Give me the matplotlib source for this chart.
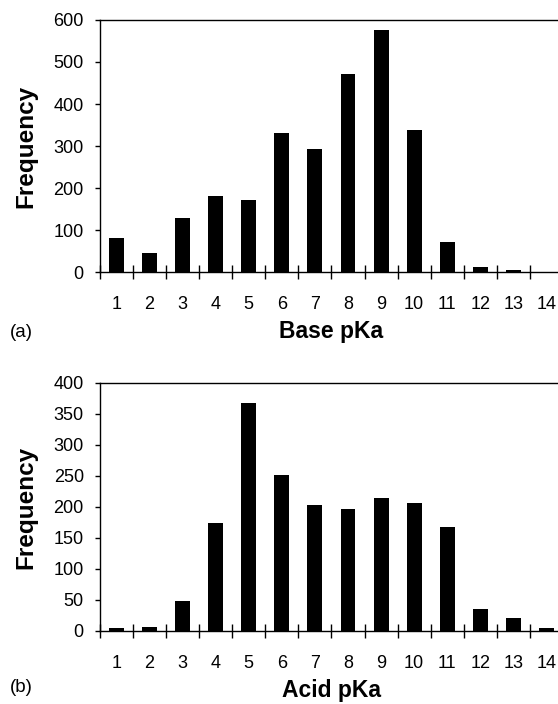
import matplotlib
matplotlib.use("Agg")
import matplotlib.pyplot as plt
import numpy as np

plt.rcParams["font.family"] = ["Liberation Sans", "DejaVu Sans"]

# pKa bins 1..14
pka = list(range(1, 15))
base_freq = [81, 45, 128, 180, 172, 331, 293, 472, 576, 337, 72, 13, 4, 1]
acid_freq = [5, 7, 49, 174, 368, 252, 203, 196, 214, 206, 167, 35, 21, 5]

fig = plt.figure(figsize=(5.58, 7.04), dpi=100)

def draw(ax, vals, ymax, ystep, xlabel):
	ax.bar(pka, vals, width=0.45, color="black")
	ax.set_xlim(0.5, 14.5)
	ax.set_ylim(0, ymax)
	ax.set_yticks(np.arange(0, ymax + 1, ystep))
	ax.set_xticks(pka)
	ax.set_xticks(np.arange(0.5, 14.6, 1), minor=True)
	ax.tick_params(axis="x", which="major", length=0, pad=17, labelsize=13)
	ax.tick_params(axis="x", which="minor", direction="inout", length=9.5, width=1)
	ax.tick_params(axis="y", direction="out", length=3.6, width=1, labelsize=13, pad=8)
	for s in ax.spines.values():
		s.set_linewidth(1)
	ax.set_ylabel("Frequency", fontsize=17.5, fontweight="bold")
	ax.yaxis.set_label_coords(-0.135, 0.5)
	ax.set_xlabel(xlabel, fontsize=16.5, fontweight="bold", labelpad=5)

ax1 = fig.add_axes([0.179, 0.6136, 0.83, 0.358])
draw(ax1, base_freq, 600, 100, "Base pKa")
fig.text(0.018, 0.527, "(a)", fontsize=13.5, va="center")

ax2 = fig.add_axes([0.179, 0.1037, 0.83, 0.3523])
draw(ax2, acid_freq, 400, 50, "Acid pKa")
fig.text(0.018, 0.024, "(b)", fontsize=13.5, va="center")

plt.savefig("out.png", dpi=100)
